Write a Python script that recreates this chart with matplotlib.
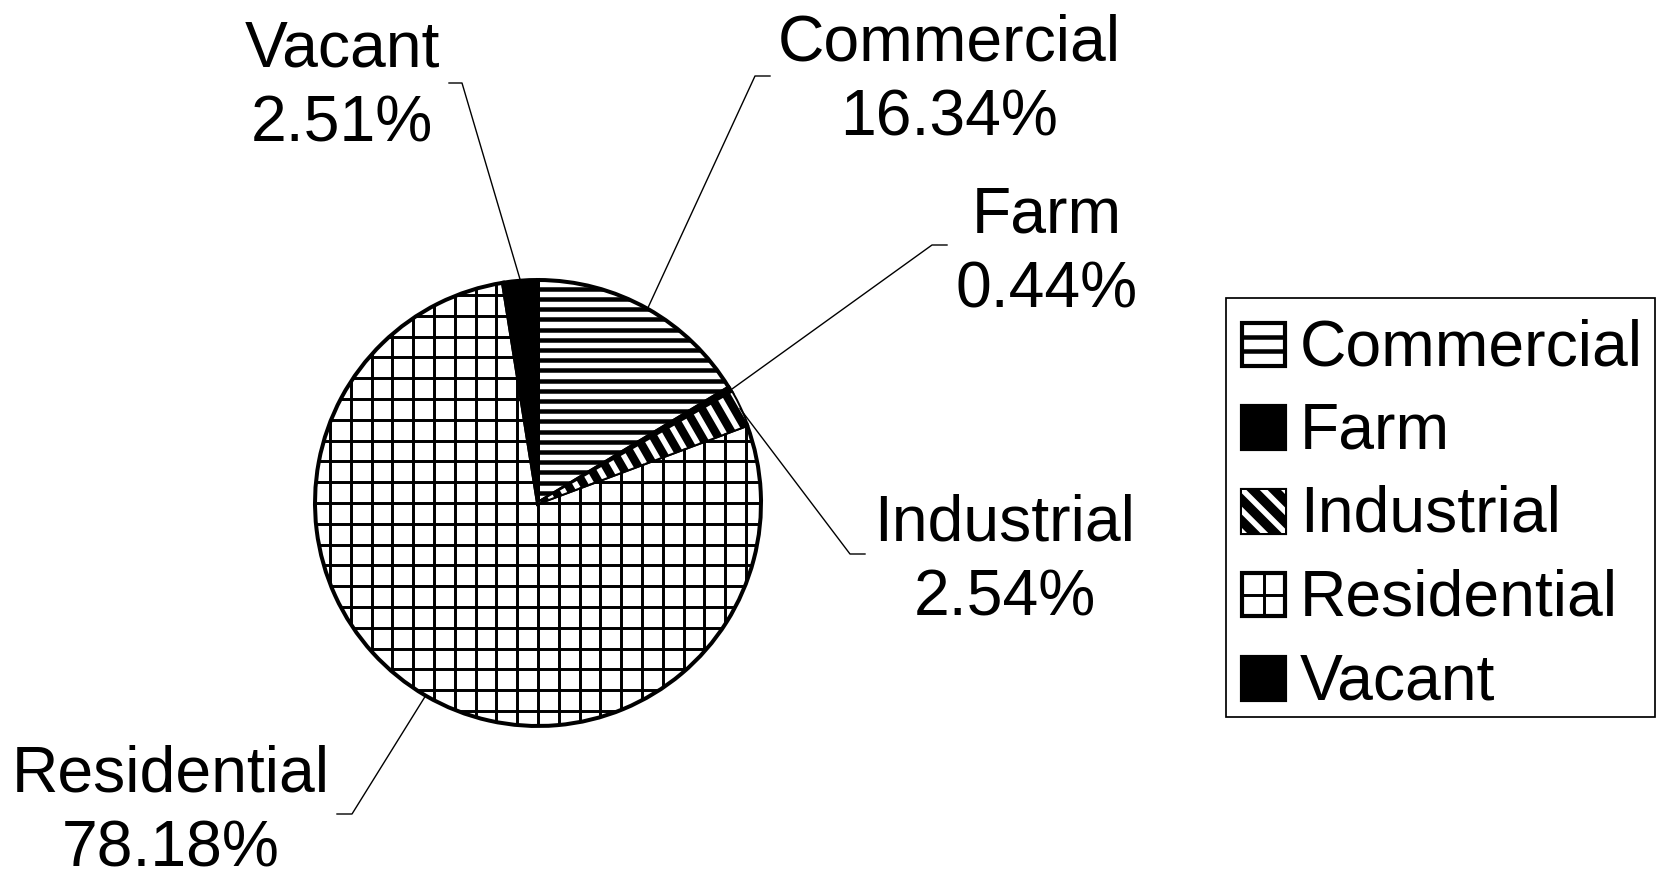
import matplotlib
matplotlib.use("Agg")
import matplotlib.pyplot as plt
from matplotlib.patches import Rectangle
from matplotlib.collections import LineCollection
import numpy as np

# land use shares (%)
categories = ["Commercial", "Farm", "Industrial", "Residential", "Vacant"]
shares = [16.34, 0.44, 2.54, 78.18, 2.51]
pct_labels = ["16.34%", "0.44%", "2.54%", "78.18%", "2.51%"]

# fill styles: face colour and list of (angle, spacing px, width pt, colour)
styles = {
    "Commercial": ("white", [(0, 10.2, 2.6, "black")]),
    "Farm": ("black", []),
    "Industrial": ("black", [(-60, 14.0, 3.2, "white")]),
    "Residential": ("white", [(0, 20.8, 1.7, "black"), (90, 20.8, 1.7, "black")]),
    "Vacant": ("black", []),
}

# label block centre, leader elbow and tick end (figure pixels, y up)
label_pos = {
    "Commercial": ((949, 798), (755, 803), (770, 803)),
    "Farm": ((1047, 626), (932, 634), (947, 634)),
    "Industrial": ((1005, 318), (850, 325), (865, 325)),
    "Residential": ((171, 67), (352, 65), (337, 65)),
    "Vacant": ((342, 792), (462, 796), (449, 796)),
}

W, H, DPI = 1665, 879, 125
CX, CY, R = 538, 376, 223
FS = 37

plt.rcParams["font.family"] = ["Liberation Sans", "DejaVu Sans"]

fig = plt.figure(figsize=(W / DPI, H / DPI), dpi=DPI)
ax = fig.add_axes([0, 0, 1, 1])


def hatch_lines(clip, centre, size, angle, spacing, lw, color):
    """Parallel lines through `centre`, clipped to the patch `clip`."""
    d = np.array([np.cos(np.radians(angle)), np.sin(np.radians(angle))])
    n = np.array([-d[1], d[0]])
    c = np.asarray(centre, dtype=float)
    k = np.arange(-int(size / spacing) - 1, int(size / spacing) + 2)
    segs = [[c + i * spacing * n - 1.5 * size * d,
             c + i * spacing * n + 1.5 * size * d] for i in k]
    lc = LineCollection(segs, colors=color, linewidths=lw, capstyle="butt")
    ax.add_collection(lc)
    lc.set_clip_path(clip)


wedges, _ = ax.pie(
    shares, startangle=90, counterclock=False,
    center=(CX, CY), radius=R,
    colors=[styles[c][0] for c in categories],
    wedgeprops=dict(linewidth=0),
)
for w, c in zip(wedges, categories):
    for angle, sp, lw, col in styles[c][1]:
        hatch_lines(w, (CX, CY), R, angle, sp, lw, col)

# black outlines on top
ax.pie(
    shares, startangle=90, counterclock=False,
    center=(CX, CY), radius=R,
    wedgeprops=dict(fill=False, edgecolor="black", linewidth=2.3),
)

ax.set_xlim(0, W)
ax.set_ylim(0, H)
ax.set_aspect("equal")
ax.axis("off")

# leader lines + labels
angles = 90 - 360 * (np.cumsum(shares) - np.array(shares) / 2) / sum(shares)
for c, a, pct in zip(categories, angles, pct_labels):
    (tx, ty), (ex, ey), (kx, ky) = label_pos[c]
    sx = CX + R * np.cos(np.radians(a))
    sy = CY + R * np.sin(np.radians(a))
    ax.plot([sx, ex, kx], [sy, ey, ky], color="black", lw=0.8)
    ax.text(tx, ty, f"{c}\n{pct}", ha="center", va="center",
            fontsize=FS, linespacing=1.3, color="black")

# legend box
LX0, LY0, LX1, LY1 = 1226, 162, 1655, 581
ax.add_patch(Rectangle((LX0, LY0), LX1 - LX0, LY1 - LY0,
                       fill=False, edgecolor="black", linewidth=1.0))
SW = 43
for i, c in enumerate(categories):
    face, fills = styles[c]
    yc = 535 - 83.5 * i
    sq = Rectangle((1242, yc - SW / 2), SW, SW, facecolor=face,
                   edgecolor="none")
    ax.add_patch(sq)
    if c == "Commercial":
        for f in (1 / 3, 2 / 3):
            ax.plot([1242, 1242 + SW], [yc - SW / 2 + f * SW] * 2,
                    color="black", lw=2.6, solid_capstyle="butt")
    elif c == "Residential":
        ax.plot([1242, 1242 + SW], [yc, yc], color="black", lw=1.7)
        ax.plot([1242 + SW / 2] * 2, [yc - SW / 2, yc + SW / 2],
                color="black", lw=1.7)
    elif c == "Industrial":
        hatch_lines(sq, (1242 + SW / 2, yc), SW, -45, 15.0, 3.2, "white")
    ax.add_patch(Rectangle((1242, yc - SW / 2), SW, SW, fill=False,
                           edgecolor="black", linewidth=2.4))
    ax.text(1300, yc - 21, c, ha="left", va="baseline", fontsize=FS,
            color="black")

fig.savefig("out.png", dpi=DPI, facecolor="white")
